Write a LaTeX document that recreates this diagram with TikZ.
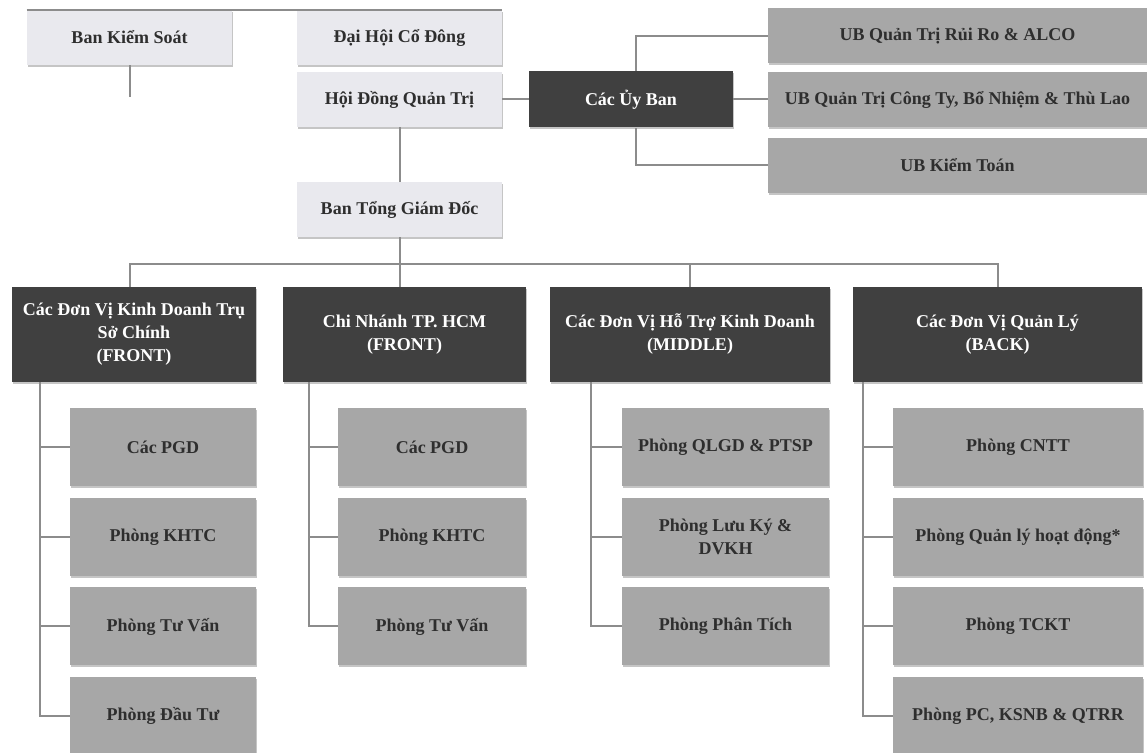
\documentclass[tikz,border=0pt]{standalone}
\usepackage{fontspec}
\setmainfont{Liberation Serif}
\usetikzlibrary{shadows}
\definecolor{boxlight}{HTML}{E9E9EE}
\definecolor{boxdark}{HTML}{404040}
\definecolor{boxgray}{HTML}{A7A7A7}
\definecolor{linkgray}{HTML}{8C8C8C}
\definecolor{textdark}{HTML}{2E2E2E}

\begin{document}
\begin{tikzpicture}[x = 0.5pt, y = -0.5pt, node distance = 44.75pt]
        \tikzset{
            box/.style  = {rectangle, font = \fontsize{9}{11.5}\selectfont\bfseries, align = center, inner sep = 2pt,
                           drop shadow = {shadow xshift = 0.6pt, shadow yshift = -0.8pt, fill = black!45, opacity = 0.5}},
            top/.style  = {box, fill = boxlight, text = textdark, minimum width = 102.5pt, minimum height = 27.5pt},
            uban/.style = {box, fill = boxgray, text = textdark, minimum width = 189.5pt, minimum height = 27.5pt},
            dark/.style = {box, fill = boxdark, text = white},
            hd/.style   = {dark, minimum width = #1, minimum height = 47.5pt},
            dept/.style = {box, fill = boxgray, text = textdark, minimum width = #1, minimum height = 39pt},
            link/.style = {draw = linkgray, line width = 1pt}
        }
        \useasboundingbox (0,0) rectangle (1147,753);

        % board level
        \node[top] (BKS)  at (129.5,37.5) {Ban Kiểm Soát};
        \node[top] (DHCD) at (399.5,37.5) {Đại Hội Cổ Đông};
        \node[top] (HDQT) at (399.5,99.5) {Hội Đồng Quản Trị};
        \node[top] (BTGD) at (399.5,209.5) {Ban Tổng Giám Đốc};
        \node[dark, minimum width = 102pt, minimum height = 28pt] (CUB) at (631,99.5) {Các Ủy Ban};
        \node[uban] (UB1) at (957.5,36) {UB Quản Trị Rủi Ro \& ALCO};
        \node[uban] (UB2) at (957.5,99.5) {UB Quản Trị Công Ty, Bổ Nhiệm \& Thù Lao};
        \node[uban] (UB3) at (957.5,165.5) {UB Kiểm Toán};

        % blocks
        \node[hd = 122pt]   (H1) at (134,334.5) {Các Đơn Vị Kinh Doanh Trụ\\Sở Chính\\(FRONT)};
        \node[hd = 121.5pt] (H2) at (404.5,334.5) {Chi Nhánh TP. HCM\\(FRONT)};
        \node[hd = 140pt]   (H3) at (690,334.5) {Các Đơn Vị Hỗ Trợ Kinh Doanh\\(MIDDLE)};
        \node[hd = 144.5pt] (H4) at (997.5,334.5) {Các Đơn Vị Quản Lý\\(BACK)};

        % departments
        \node[dept = 93pt] (C11) at (163,447.5) {Các PGD};
        \node[dept = 93pt, below of = C11] (C12) {Phòng KHTC};
        \node[dept = 93pt, below of = C12] (C13) {Phòng Tư Vấn};
        \node[dept = 93pt, below of = C13] (C14) {Phòng Đầu Tư};

        \node[dept = 94pt] (C21) at (432,447.5) {Các PGD};
        \node[dept = 94pt, below of = C21] (C22) {Phòng KHTC};
        \node[dept = 94pt, below of = C22] (C23) {Phòng Tư Vấn};

        \node[dept = 103.5pt] (C31) at (725.5,447.5) {Phòng QLGD \& PTSP};
        \node[dept = 103.5pt, below of = C31] (C32) {Phòng Lưu Ký \&\\DVKH};
        \node[dept = 103.5pt, below of = C32] (C33) {Phòng Phân Tích};

        \node[dept = 125pt] (C41) at (1018,447.5) {Phòng CNTT};
        \node[dept = 125pt, below of = C41] (C42) {Phòng Quản lý hoạt động*};
        \node[dept = 125pt, below of = C42] (C43) {Phòng TCKT};
        \node[dept = 125pt, below of = C43] (C44) {Phòng PC, KSNB \& QTRR};

        \coordinate (KS) at ([yshift = 1pt]BKS.south |- HDQT.west);
        \coordinate (BUS) at (0,264);

        \draw[link] (BKS.north west) -- (DHCD.north east);
        \draw[link] (BKS.south) -- (KS);
        \draw[link] (HDQT.east) -- (CUB.west);
        \draw[link] (CUB.east) -- (UB2.west);
        \draw[link] (UB1.west) -| ([xshift = 2.5pt]CUB.north);
        \draw[link] (UB3.west) -| ([xshift = 2.5pt]CUB.south);
        \draw[link] (HDQT.south) -- (BTGD.north);
        \draw[link] (BTGD.south) -- (BTGD.south |- H2.north);
        \draw[link] ([xshift = -2pt]H1.north) |- (BUS -| H4.north) -- (H4.north);
        \draw[link] (H3.north) -- (H3.north |- BUS);

        \foreach \r in {1,...,4} \draw[link] ([xshift = 14pt]H1.south west) |- (C1\r.west);
        \foreach \r in {1,...,3} \draw[link] ([xshift = 13pt]H2.south west) |- (C2\r.west);
        \foreach \r in {1,...,3} \draw[link] ([xshift = 20.5pt]H3.south west) |- (C3\r.west);
        \foreach \r in {1,...,4} \draw[link] ([xshift = 5pt]H4.south west) |- (C4\r.west);
    \end{tikzpicture}
\end{document}
